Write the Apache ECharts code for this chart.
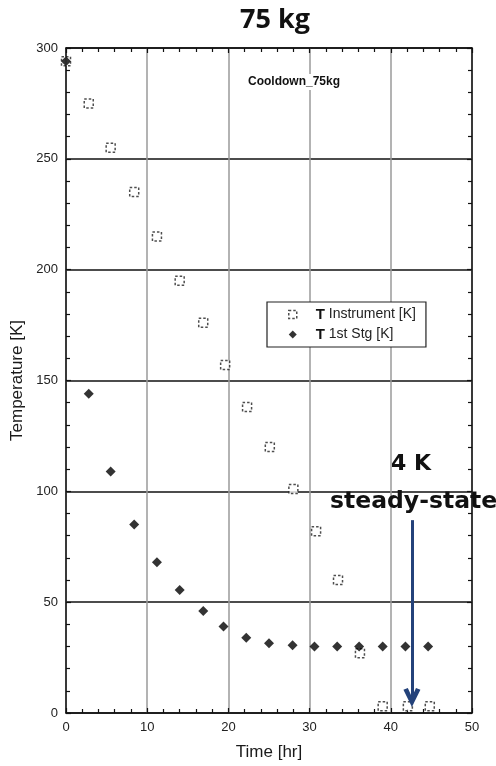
<!DOCTYPE html>
<html>
<head>
<meta charset="utf-8">
<script src="https://cdn.jsdelivr.net/npm/echarts@6/dist/echarts.min.js"></script>
<style>
  html, body { margin: 0; padding: 0; background: #fff; }
  #chart { width: 496px; height: 766px; }
</style>
</head>
<body>
<div id="chart"></div>
<script>
// time [hr] and temperatures [K]
const timeInstrument = [0, 2.8, 5.5, 8.4, 11.2, 14.0, 16.9, 19.6, 22.3, 25.1, 28.0, 30.8, 33.5, 36.2, 39.0, 42.1, 44.8]
const tInstrument = [294, 275, 255, 235, 215, 195, 176, 157, 138, 120, 101, 82, 60, 27, 3, 3, 3]
const time1stStg = [0, 2.8, 5.5, 8.4, 11.2, 14.0, 16.9, 19.4, 22.2, 25.0, 27.9, 30.6, 33.4, 36.1, 39.0, 41.8, 44.6]
const t1stStg = [294, 144, 109, 85, 68, 55.5, 46, 39, 34, 31.5, 30.6, 30, 30, 30, 30, 30, 30]
// annotation arrow (time, temperature)
const arrowFrom = [42.6, 87]
const arrowTo = [42.6, 7]

const chart = echarts.init(document.getElementById('chart'))

const pairs = (xs, ys) => xs.map((x, i) => [x, ys[i]])
const frameLine = { show: true, onZero: false, lineStyle: { color: '#111', width: 1.5 } }
const tick = { show: true, inside: true, length: 5, lineStyle: { color: '#111', width: 1.2 } }
const minor = { show: true, splitNumber: 5, length: 4, lineStyle: { color: '#111', width: 1.2 } }
const sideAxis = {
  axisLine: frameLine,
  axisLabel: { show: false },
  splitLine: { show: false },
  axisTick: tick,
  minorTick: minor
}
const labelStyle = { fontFamily: 'Liberation Sans', fontSize: 13, color: '#222', margin: 8 }
const nameStyle = { fontFamily: 'Liberation Sans', fontSize: 17, color: '#1a1a1a' }

const option = {
  animation: false,
  backgroundColor: '#fff',
  title: {
    text: '75 kg',
    left: 270,
    top: 2,
    textAlign: 'center',
    textStyle: { fontFamily: 'Open Sans', fontWeight: 'bold', fontSize: 27, color: '#111' }
  },
  grid: { left: 66, right: 24, top: 48, bottom: 53 },
  legend: {
    orient: 'vertical',
    left: 267,
    top: 302,
    padding: [5, 10, 5, 21],
    itemGap: 5,
    itemWidth: 8,
    itemHeight: 8,
    backgroundColor: '#fff',
    borderColor: '#222',
    borderWidth: 1.2,
    textStyle: {
      fontFamily: 'Liberation Sans', fontSize: 14, color: '#222', padding: [0, 0, 0, 14],
      rich: { b: { fontFamily: 'Liberation Sans', fontWeight: 'bold', fontSize: 15, color: '#111' } }
    },
    formatter: name => '{b|' + name.slice(0, 1) + '}' + name.slice(1),
    data: [
      { name: 'T Instrument [K]', itemStyle: { color: '#fff', borderColor: '#222', borderWidth: 1.5, borderType: [2.5, 2] } },
      { name: 'T 1st Stg [K]' }
    ]
  },
  xAxis: [
    {
      type: 'value', min: 0, max: 50, interval: 10,
      name: 'Time [hr]', nameLocation: 'middle', nameGap: 31, nameTextStyle: nameStyle,
      axisLine: frameLine,
      axisLabel: labelStyle,
      axisTick: tick,
      minorTick: minor,
      splitLine: { show: true, lineStyle: { color: '#9a9a9a', width: 1.5 } }
    },
    Object.assign({ type: 'value', position: 'top', min: 0, max: 50, interval: 10 }, sideAxis)
  ],
  yAxis: [
    {
      type: 'value', min: 0, max: 300, interval: 50,
      name: 'Temperature [K]', nameLocation: 'middle', nameGap: 38, nameTextStyle: nameStyle,
      axisLine: frameLine,
      axisLabel: labelStyle,
      axisTick: tick,
      minorTick: minor,
      splitLine: { show: true, lineStyle: { color: '#111', width: 1.5 } }
    },
    Object.assign({ type: 'value', position: 'right', min: 0, max: 300, interval: 50 }, sideAxis)
  ],
  graphic: [
    {
      type: 'text', left: 246, top: 74, z: 10,
      style: {
        text: 'Cooldown_75kg', fill: '#111', backgroundColor: '#fff',
        font: 'bold 12px "Liberation Sans"', padding: [2, 2]
      }
    },
    {
      type: 'text', left: 391, top: 453, z: 10,
      style: { text: '4 K', fill: '#111', font: 'bold 22px "DejaVu Sans"' }
    },
    {
      type: 'text', left: 330, top: 490, z: 10,
      style: { text: 'steady-state', fill: '#111', font: 'bold 23.5px "DejaVu Sans"' }
    }
  ],
  series: [
    {
      name: 'T Instrument [K]',
      type: 'scatter',
      clip: false,
      symbol: 'rect',
      symbolSize: 9,
      itemStyle: { color: '#fff', borderColor: '#222', borderWidth: 1.5, borderType: [2.5, 2] },
      data: pairs(timeInstrument, tInstrument),
      z: 3
    },
    {
      name: 'T 1st Stg [K]',
      type: 'scatter',
      clip: false,
      symbol: 'diamond',
      symbolSize: 10,
      itemStyle: { color: '#000' },
      data: pairs(time1stStg, t1stStg),
      z: 4,
      markLine: {
        silent: true,
        symbol: ['none', 'path://M5,0 L10,10.5 L7.4,11.5 L5,6 L2.6,11.5 L0,10.5 Z'],
        symbolSize: [17, 19],
        label: { show: false },
        lineStyle: { color: '#24427a', width: 3, type: 'solid' },
        data: [[{ coord: arrowFrom }, { coord: arrowTo }]]
      }
    }
  ]
}

chart.setOption(option)
</script>
</body>
</html>
